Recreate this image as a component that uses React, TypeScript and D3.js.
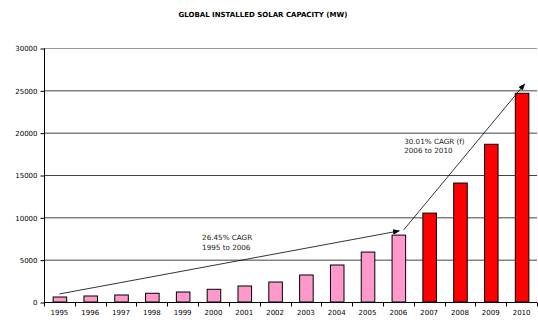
import React, { useEffect, useRef } from "react";
import * as d3 from "d3";

const years = ["1995", "1996", "1997", "1998", "1999", "2000", "2001", "2002", "2003", "2004", "2005", "2006", "2007", "2008", "2009", "2010"];
const capacity = [590, 710, 830, 1030, 1180, 1500, 1890, 2360, 3190, 4370, 5900, 7900, 10500, 14050, 18630, 24650];
const forecastFrom = "2007";
const yTicks = [0, 5000, 10000, 15000, 20000, 25000, 30000];

// arrows: [fromYear, fromValue, toYear, toValue] (year as fractional position)
const arrows = [
  [1995, 950, 2006.03, 8400],
  [2006.17, 8500, 2010.1, 25750],
];
const notes = [
  { year: 1999.63, value: 7300, lines: ["26.45% CAGR", "1995 to 2006"] },
  { year: 2006.19, value: 18700, lines: ["30.01% CAGR (f)", "2006 to 2010"] },
];

const W = 538;
const H = 320;

export default function App() {
  const ref = useRef<SVGSVGElement>(null);

  useEffect(() => {
    const svg = d3.select(ref.current);
    svg.selectAll("*").remove();
    const margin = { top: 48, right: 1, bottom: 18, left: 44 };
    const width = W - margin.left - margin.right;
    const height = H - margin.top - margin.bottom;
    const font = "DejaVu Sans, Verdana, sans-serif";

    svg.append("rect").attr("width", W).attr("height", H).attr("fill", "#fff");

    svg
      .append("text")
      .attr("x", 263)
      .attr("y", 17)
      .attr("text-anchor", "middle")
      .style("font-family", font)
      .style("font-size", "7px")
      .style("font-weight", "bold")
      .text("GLOBAL INSTALLED SOLAR CAPACITY (MW)");

    const g = svg.append("g").attr("transform", `translate(${margin.left},${margin.top})`);

    const x = d3.scaleBand().domain(years).range([0, width]).paddingInner(0.56).paddingOuter(0.28);
    const y = d3.scaleLinear().domain([0, 30000]).range([height, 0]);
    const step = x.step();
    const xYear = (yr: number) => (x("1995") as number) + x.bandwidth() / 2 + (yr - 1995) * step;

    // gridlines
    g.selectAll(".grid")
      .data(yTicks.filter((t) => t > 0))
      .join("line")
      .attr("x1", 0)
      .attr("x2", width)
      .attr("y1", (d) => y(d) + 0.5)
      .attr("y2", (d) => y(d) + 0.5)
      .attr("stroke", (d) => (d === 30000 ? "#999" : "#444"))
      .attr("stroke-width", 1);

    // bars
    g.selectAll(".bar")
      .data(years)
      .join("rect")
      .attr("x", (d) => (x(d) as number) + 0.5)
      .attr("y", (d, i) => y(capacity[i]))
      .attr("width", x.bandwidth())
      .attr("height", (d, i) => height - y(capacity[i]))
      .attr("fill", (d) => (+d >= +forecastFrom ? "#ff0000" : "#ff99cc"))
      .attr("stroke", "#000")
      .attr("stroke-width", 1);

    // y axis
    const yAxis = g
      .append("g")
      .attr("transform", "translate(0.5,0.5)")
      .call(d3.axisLeft(y).tickValues(yTicks).tickSize(4).tickPadding(3).tickFormat(d3.format("d")));
    yAxis.select(".domain").attr("stroke", "#000").attr("d", `M0,0V${height}`);
    yAxis.selectAll("text").style("font-family", font).style("font-size", "7px").attr("fill", "#000");

    // x axis
    const xAxisG = g.append("g").attr("transform", `translate(0,${height + 0.5})`);
    xAxisG.append("line").attr("x1", 0).attr("x2", width).attr("stroke", "#000");
    xAxisG
      .selectAll(".xt")
      .data(d3.range(years.length + 1))
      .join("line")
      .attr("x1", (i) => Math.round(i * step) + 0.5)
      .attr("x2", (i) => Math.round(i * step) + 0.5)
      .attr("y1", 0)
      .attr("y2", 4)
      .attr("stroke", "#000");
    xAxisG
      .selectAll(".xl")
      .data(years)
      .join("text")
      .attr("x", (d) => (x(d) as number) + x.bandwidth() / 2)
      .attr("y", 12)
      .attr("text-anchor", "middle")
      .style("font-family", font)
      .style("font-size", "7px")
      .text((d) => d);

    // arrows
    const defs = svg.append("defs");
    defs
      .append("marker")
      .attr("id", "ah")
      .attr("viewBox", "0 0 10 10")
      .attr("refX", 9)
      .attr("refY", 5)
      .attr("markerWidth", 7)
      .attr("markerHeight", 7)
      .attr("markerUnits", "userSpaceOnUse")
      .attr("orient", "auto")
      .append("path")
      .attr("d", "M0,1L10,5L0,9Z")
      .attr("fill", "#000");

    g.selectAll(".arrow")
      .data(arrows)
      .join("line")
      .attr("x1", (d) => xYear(d[0]))
      .attr("y1", (d) => y(d[1]))
      .attr("x2", (d) => xYear(d[2]))
      .attr("y2", (d) => y(d[3]))
      .attr("stroke", "#000")
      .attr("stroke-width", 0.8)
      .attr("marker-end", "url(#ah)");

    notes.forEach((n) => {
      const t = g
        .append("text")
        .attr("x", xYear(n.year))
        .attr("y", y(n.value))
        .style("font-family", font)
        .style("font-size", "7.2px")
        .attr("fill", "#222");
      n.lines.forEach((l, i) => {
        t.append("tspan").attr("x", xYear(n.year)).attr("dy", i === 0 ? 0 : 9.5).text(l);
      });
    });
  }, []);

  return (
    <div style={{ position: "absolute", left: 0, top: 0 }}>
      <svg ref={ref} width={W} height={H}></svg>
    </div>
  );
}
